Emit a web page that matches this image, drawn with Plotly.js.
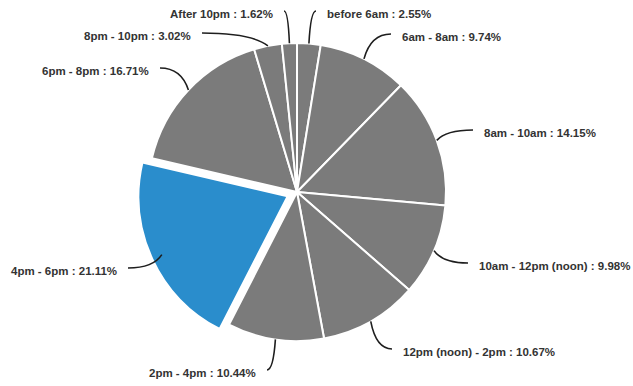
<!DOCTYPE html>
<html>
<head>
<meta charset="utf-8">
<script src="https://cdn.plot.ly/plotly-3.0.1.min.js"></script>
<style>html,body{margin:0;padding:0;background:#fff;}#chart{width:633px;height:386px;}</style>
</head>
<body>
<div id="chart"></div>
<script>
// ---- data ----
const categories = ["before 6am", "6am - 8am", "8am - 10am", "10am - 12pm (noon)", "12pm (noon) - 2pm",
  "2pm - 4pm", "4pm - 6pm", "6pm - 8pm", "8pm - 10pm", "After 10pm"];
const percents = [2.55, 9.74, 14.15, 9.98, 10.67, 10.44, 21.11, 16.71, 3.02, 1.62];
const highlighted = "4pm - 6pm";

// ---- layout constants (pixels) ----
const W = 633, H = 386;
const CX = 297, CY = 192, R = 149, PULL = 0.07;
// end points of the leader lines, where the label text begins
const labelEnds = [[316, 11], [391, 34], [473, 130], [468, 263], [392, 349],
  [267, 370], [128, 268], [160, 68], [202, 33], [284, 11]];
const GRAY = "#7b7b7b", BLUE = "#2a8dcc";

const side = (1 + PULL) * R * 2;
const domX = [(CX - side / 2) / W, (CX + side / 2) / W];
const domY = [(H - CY - side / 2) / H, (H - CY + side / 2) / H];

const px = x => x / W, py = y => 1 - y / H;

const total = percents.reduce((a, b) => a + b, 0);
let cum = 0;
const shapes = [], annotations = [];
percents.forEach((v, i) => {
  const mid = (cum + v / 2) / total * 2 * Math.PI;
  cum += v;
  const sx = CX + R * Math.sin(mid), sy = CY - R * Math.cos(mid);
  const [ex, ey] = labelEnds[i];
  const cx = sx + 0.25 * (ex - sx), cy = ey;
  shapes.push({
    type: "path", xref: "paper", yref: "paper",
    path: `M ${px(sx)},${py(sy)} Q ${px(cx)},${py(cy)} ${px(ex)},${py(ey)}`,
    line: {color: "#1e1e1e", width: 1.6}
  });
  const right = ex > sx;
  annotations.push({
    xref: "paper", yref: "paper", showarrow: false,
    x: px(right ? ex + 9 : ex - 9), y: py(ey + 3),
    xanchor: right ? "left" : "right", yanchor: "middle",
    text: categories[i] + " : " + v.toFixed(2) + "%",
    font: {family: "Liberation Sans, Arial, sans-serif", size: 11.5, color: "#333333", weight: 700}
  });
});

const trace = {
  type: "pie",
  labels: categories,
  values: percents,
  sort: false,
  direction: "clockwise",
  rotation: 0,
  textinfo: "none",
  hoverinfo: "label+percent",
  automargin: false,
  pull: categories.map(c => c === highlighted ? PULL : 0),
  marker: {
    colors: categories.map(c => c === highlighted ? BLUE : GRAY),
    line: {color: "#ffffff", width: 2}
  },
  domain: {x: domX, y: domY}
};

Plotly.newPlot("chart", [trace], {
  width: W, height: H,
  margin: {l: 0, r: 0, t: 0, b: 0},
  showlegend: false,
  paper_bgcolor: "#ffffff",
  shapes: shapes,
  annotations: annotations
}, {staticPlot: true});
</script>
</body>
</html>
